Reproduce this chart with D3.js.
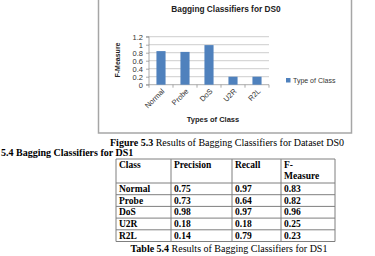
<!DOCTYPE html>
<html>
<head>
<meta charset="utf-8">
<script src="https://cdn.jsdelivr.net/npm/d3@7"></script>
<style>
  body { margin: 0; background: #fff; }
  svg { display: block; }
  .serif { font-family: "Liberation Serif", "Times New Roman", serif; fill: #000; }
  .sans { font-family: "Liberation Sans", Arial, sans-serif; }
</style>
</head>
<body>
<script>
// chart DS0
const classes = ["Normal", "Probe", "DoS", "U2R", "R2L"];
const fMeasureDS0 = [0.84, 0.82, 0.99, 0.2, 0.2];
const yTicks = [0, 0.2, 0.4, 0.6, 0.8, 1, 1.2];

// table DS1
const tableHeader = ["Class", "Precision", "Recall", "F-Measure"];
const precisionDS1 = ["0.75", "0.73", "0.98", "0.18", "0.14"];
const recallDS1 = ["0.97", "0.64", "0.97", "0.18", "0.79"];
const fMeasureDS1 = ["0.83", "0.82", "0.96", "0.25", "0.23"];

const width = 375, height = 256;
const plot = {left: 149, right: 269, top: 36.7, bottom: 84.7};

const svg = d3.select("body")
  .append("svg")
  .attr("width", width)
  .attr("height", height);

// chart frame
svg.append("rect")
  .attr("x", 98.5)
  .attr("y", -5)
  .attr("width", 253)
  .attr("height", 138)
  .attr("fill", "#fff")
  .attr("stroke", "#a6a6a6")
  .attr("stroke-width", 1.5);

svg.append("text")
  .attr("class", "sans")
  .attr("x", 226)
  .attr("y", 12)
  .attr("text-anchor", "middle")
  .attr("font-size", 8.3)
  .attr("font-weight", "bold")
  .attr("fill", "#222")
  .text("Bagging Classifiers for DS0");

const xScale = d3.scaleBand()
  .domain(classes)
  .range([plot.left, plot.right])
  .paddingInner(0.62)
  .paddingOuter(0.31);

const yScale = d3.scaleLinear()
  .domain([0, 1.2])
  .range([plot.bottom, plot.top]);

// gridlines
svg.append("g")
  .selectAll("line")
  .data(yTicks.slice(1))
  .enter()
  .append("line")
  .attr("x1", plot.left)
  .attr("x2", plot.right)
  .attr("y1", d => yScale(d))
  .attr("y2", d => yScale(d))
  .attr("stroke", "#b8b8b8")
  .attr("stroke-width", 0.7);

const yAxis = d3.axisLeft(yScale)
  .tickValues(yTicks)
  .tickFormat(d => String(d))
  .tickSize(3)
  .tickPadding(3);

const gy = svg.append("g")
  .attr("transform", "translate(" + plot.left + ",0)")
  .call(yAxis);
gy.selectAll("path, line").attr("stroke", "#888").attr("stroke-width", 0.7);
gy.select(".domain").attr("d", "M-3," + plot.top + "H0V" + plot.bottom + "H-3");
gy.selectAll("text")
  .attr("class", "sans")
  .attr("font-size", 7.5)
  .attr("fill", "#333");

// x axis line with boundary ticks
const gx = svg.append("g")
  .attr("transform", "translate(0," + plot.bottom + ")");
gx.append("line")
  .attr("x1", plot.left).attr("x2", plot.right)
  .attr("stroke", "#888").attr("stroke-width", 0.7);
gx.selectAll("line.tick")
  .data(d3.range(classes.length + 1))
  .enter()
  .append("line")
  .attr("class", "tick")
  .attr("x1", i => plot.left + i * xScale.step())
  .attr("x2", i => plot.left + i * xScale.step())
  .attr("y1", 0).attr("y2", 3)
  .attr("stroke", "#888").attr("stroke-width", 0.7);

gx.selectAll("text")
  .data(classes)
  .enter()
  .append("text")
  .attr("class", "sans")
  .attr("font-size", 7.5)
  .attr("fill", "#333")
  .attr("text-anchor", "end")
  .attr("transform", d => "translate(" + (xScale(d) + xScale.bandwidth() / 2 + 4) + ",7) rotate(-45)")
  .text(d => d);

// bars
svg.selectAll("rect.bar")
  .data(fMeasureDS0)
  .enter()
  .append("rect")
  .attr("class", "bar")
  .attr("x", (d, i) => xScale(classes[i]))
  .attr("y", d => yScale(d))
  .attr("width", xScale.bandwidth())
  .attr("height", d => plot.bottom - yScale(d))
  .attr("fill", "#4f81bd");

svg.append("text")
  .attr("class", "sans")
  .attr("transform", "translate(120,60) rotate(-90)")
  .attr("text-anchor", "middle")
  .attr("font-size", 7)
  .attr("font-weight", "bold")
  .attr("fill", "#222")
  .text("F-Measure");

svg.append("text")
  .attr("class", "sans")
  .attr("x", 213)
  .attr("y", 122)
  .attr("text-anchor", "middle")
  .attr("font-size", 7.5)
  .attr("font-weight", "bold")
  .attr("fill", "#222")
  .text("Types of Class");

// legend
svg.append("rect")
  .attr("x", 286).attr("y", 78)
  .attr("width", 4.5).attr("height", 4.5)
  .attr("fill", "#4f81bd");
svg.append("text")
  .attr("class", "sans")
  .attr("x", 293).attr("y", 83)
  .attr("font-size", 7)
  .attr("fill", "#333")
  .text("Type of Class");

// captions
const fig = svg.append("text")
  .attr("class", "serif")
  .attr("x", 227).attr("y", 146)
  .attr("text-anchor", "middle")
  .attr("font-size", 10);
fig.append("tspan").attr("font-weight", "bold").text("Figure 5.3");
fig.append("tspan").text(" Results of Bagging Classifiers for Dataset DS0");

svg.append("text")
  .attr("class", "serif")
  .attr("x", 1).attr("y", 156)
  .attr("font-size", 10)
  .attr("font-weight", "bold")
  .text("5.4 Bagging Classifiers for DS1");

// table
const colX = [116, 171, 232, 281, 335];
const rowY = [159, 183, 194.7, 206.4, 218.1, 229.8, 241.5];
const tbl = svg.append("g");

tbl.selectAll("line.h")
  .data(rowY)
  .enter()
  .append("line")
  .attr("x1", colX[0]).attr("x2", colX[colX.length - 1])
  .attr("y1", d => d).attr("y2", d => d)
  .attr("stroke", "#7f7f7f").attr("stroke-width", 1);
tbl.selectAll("line.v")
  .data(colX)
  .enter()
  .append("line")
  .attr("x1", d => d).attr("x2", d => d)
  .attr("y1", rowY[0]).attr("y2", rowY[rowY.length - 1])
  .attr("stroke", "#7f7f7f").attr("stroke-width", 1);

tableHeader.forEach((h, i) => {
  const t = tbl.append("text")
    .attr("class", "serif")
    .attr("x", colX[i] + 3).attr("y", 168)
    .attr("font-size", 9.5)
    .attr("font-weight", "bold");
  if (h === "F-Measure") {
    t.append("tspan").text("F-");
    t.append("tspan").attr("x", colX[i] + 3).attr("dy", 11).text("Measure");
  } else {
    t.text(h);
  }
});

const rows = classes.map((c, i) => [c, precisionDS1[i], recallDS1[i], fMeasureDS1[i]]);
rows.forEach((r, ri) => {
  r.forEach((v, ci) => {
    tbl.append("text")
      .attr("class", "serif")
      .attr("x", colX[ci] + 3)
      .attr("y", rowY[ri + 1] + 8.8)
      .attr("font-size", 9.5)
      .attr("font-weight", "bold")
      .text(v);
  });
});

const cap = svg.append("text")
  .attr("class", "serif")
  .attr("x", 229).attr("y", 252)
  .attr("text-anchor", "middle")
  .attr("font-size", 10);
cap.append("tspan").attr("font-weight", "bold").text("Table 5.4");
cap.append("tspan").text(" Results of Bagging Classifiers for DS1");
</script>
</body>
</html>
